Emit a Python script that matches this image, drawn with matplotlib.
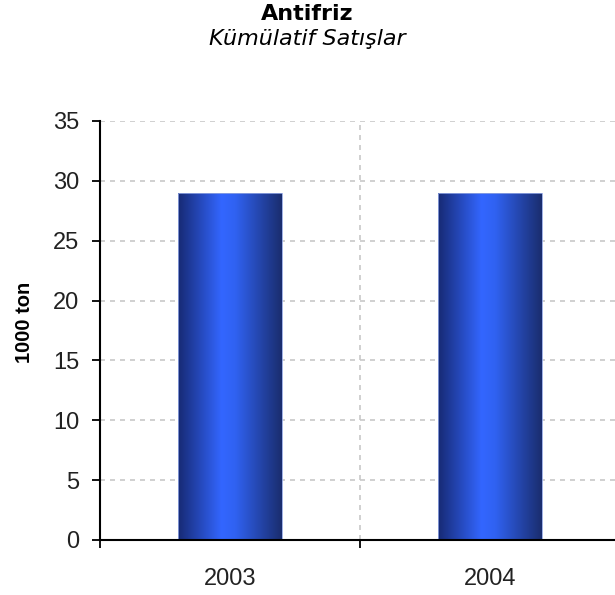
import numpy as np
import matplotlib.pyplot as plt
from matplotlib.colors import LinearSegmentedColormap
from matplotlib.patches import Rectangle

years = ["2003", "2004"]
sales = [29, 29]  # 1000 ton
y_ticks = [0, 5, 10, 15, 20, 25, 30, 35]

fig = plt.figure(figsize=(6.15, 5.95), dpi=100)
ax = fig.add_axes([100 / 615, 55 / 595, 520 / 615, 419 / 595])

# bar gradient: dark edges, bright blue a bit left of centre
grad = LinearSegmentedColormap.from_list(
    "bar", [(0.0, "#172a74"), (0.42, "#3366ff"), (0.55, "#3062f2"), (1.0, "#1a2d6e")])
g = np.linspace(0, 1, 256).reshape(1, -1)

width = 0.4
x = np.arange(len(years))
for xi, v in zip(x, sales):
    left = xi - width / 2
    im = ax.imshow(g, cmap=grad, aspect="auto", extent=[left, left + width, 0, v],
                   zorder=3, interpolation="bilinear")
    r = Rectangle((left, 0), width, v, facecolor="none", edgecolor="#8fa3e0",
                  linewidth=0.6, zorder=4)
    ax.add_patch(r)
    im.set_clip_path(r)

ax.set_xlim(-0.5, 1.5)
ax.set_ylim(0, 35)

# grid
for yv in y_ticks[1:]:
    ax.axhline(yv, color="#c8c8c8", linestyle=(0, (3, 3)), linewidth=1.2, zorder=1)
ax.axvline(0.5, color="#c8c8c8", linestyle=(0, (3, 3)), linewidth=1.2, zorder=1)

ax.set_yticks(y_ticks)
ax.set_xticks([-0.5, 0.5, 1.5])
ax.set_xticklabels([])
ax.set_xticks(x, minor=True)
ax.set_xticklabels(years, minor=True)
ax.tick_params(axis="x", which="minor", length=0, pad=20)
ax.tick_params(axis="both", which="major", length=6, width=1.3, direction="out", color="black")
ax.tick_params(axis="y", pad=9)
for lab in ax.get_yticklabels() + ax.get_xticklabels(minor=True):
    lab.set_fontfamily("Liberation Sans")
    lab.set_fontsize(17)
    lab.set_color("#222222")

for s in ["top", "right"]:
    ax.spines[s].set_visible(False)
for s in ["left", "bottom"]:
    ax.spines[s].set_linewidth(1.5)
    ax.spines[s].set_color("black")
    ax.spines[s].set_zorder(5)

fig.text(25 / 615, 1 - 322 / 595, "1000 ton", rotation=90, ha="center", va="center",
         fontsize=14.5, fontweight="bold", family="Liberation Sans")
fig.text(307 / 615, 1 - 14 / 595, "Antifriz", ha="center", va="center",
         fontsize=16, fontweight="bold")
fig.text(307 / 615, 1 - 39 / 595, "Kümülatif Satışlar", ha="center", va="center",
         fontsize=16, style="italic")

fig.savefig("out.png", dpi=100)
